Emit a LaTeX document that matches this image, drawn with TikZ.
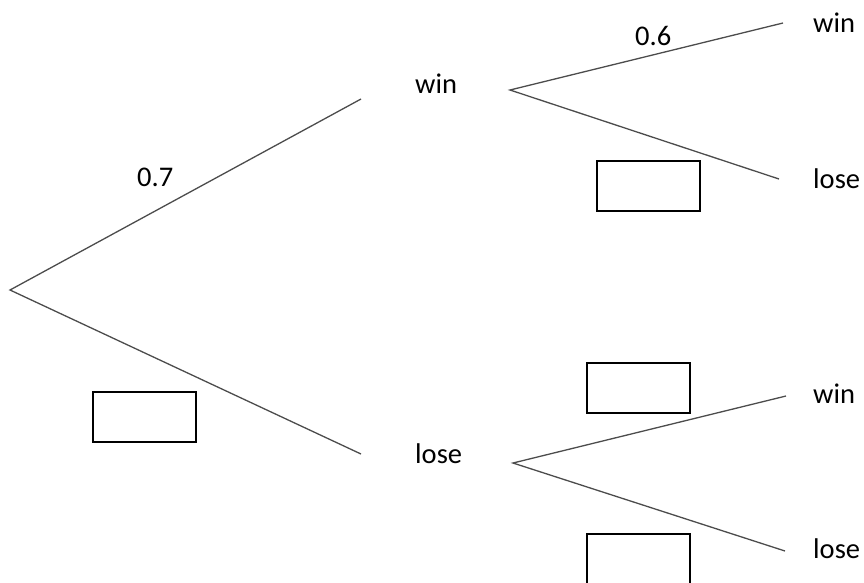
\documentclass[tikz,border=0pt]{standalone}
\usepackage{fontspec}
\setmainfont{Carlito}
\usetikzlibrary{positioning}

\begin{document}
\begin{tikzpicture}[x=1pt, y=-1pt,
  branch/.style={draw=black!70, line width=1.3pt},
  blank/.style={draw, line width=2pt, minimum width=103pt, minimum height=50pt, inner sep=0pt},
  every node/.style={font=\fontsize{28.5}{34}\selectfont, inner sep=0pt}
  ]
  \useasboundingbox (0,0) rectangle (864,582);
  % first game
  \coordinate (root) at (10,290);
  \coordinate (win) at (361,99);
  \coordinate (lose) at (361,454);
  \node[anchor=base west] (winlabel) at (415,93) {win};
  \node[anchor=base west] (loselabel) at (415,463) {lose};
  \node[anchor=base west] (pwin) at (137,186) {0.7};
  \node[blank] (plose) at (144.5,416.5) {};
  \draw[branch] (win) -- (root) -- (lose);
  % second game after a win
  \coordinate (winroot) at (510,90);
  \coordinate (winwin) at (783,23);
  \coordinate (winlose) at (779,179);
  \node[anchor=base west] (winwinlabel) at (813,32) {win};
  \node[anchor=base west] (winloselabel) at (813,188) {lose};
  \node[anchor=base west] (pwinwin) at (635,45) {0.6};
  \node[blank] (pwinlose) at (648.5,186) {};
  \draw[branch] (winwin) -- (winroot) -- (winlose);
  % second game after a loss
  \coordinate (loseroot) at (513,463);
  \coordinate (losewin) at (786,396);
  \coordinate (loselose) at (785,551);
  \node[anchor=base west] (losewinlabel) at (813,403) {win};
  \node[anchor=base west] (loseloselabel) at (813,558) {lose};
  \node[blank] (plosewin) at (638.5,387.5) {};
  \node[blank] (ploselose) at (638.5,558.5) {};
  \draw[branch] (losewin) -- (loseroot) -- (loselose);
\end{tikzpicture}
\end{document}
